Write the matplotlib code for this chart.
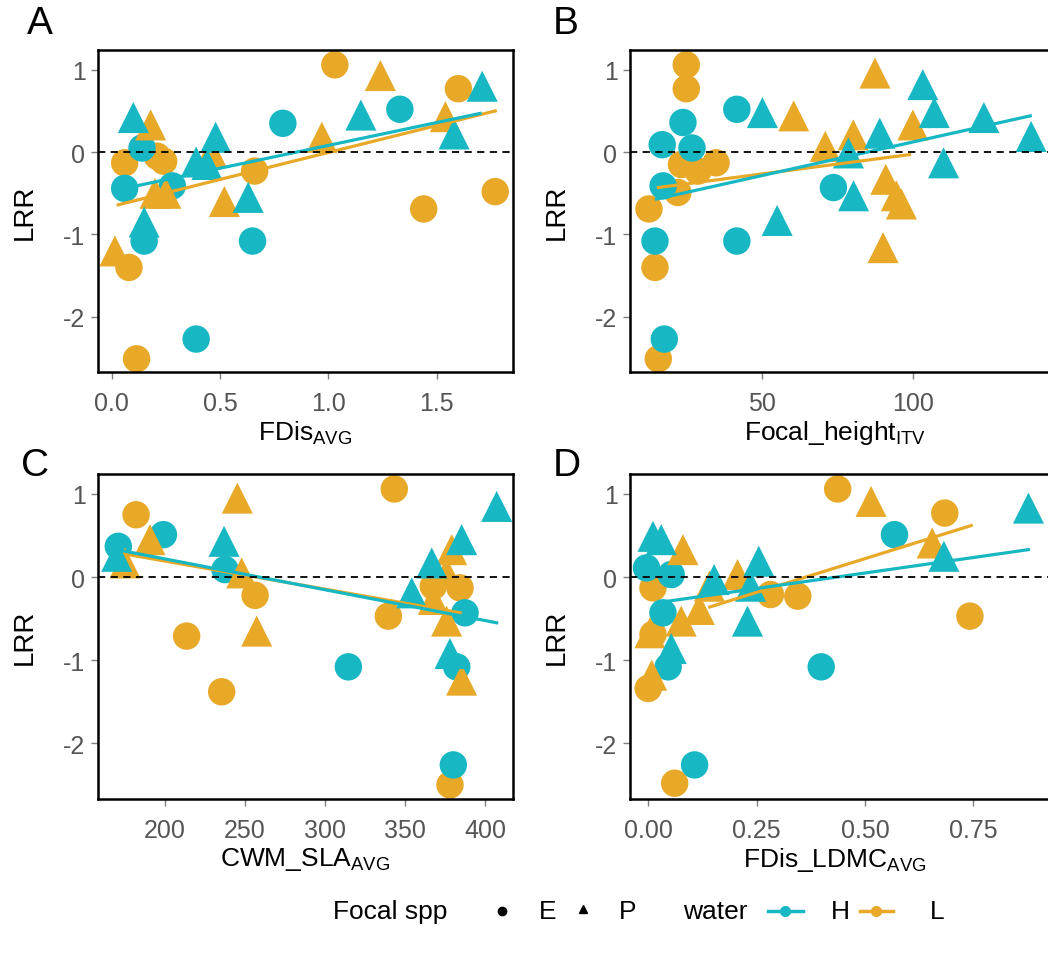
import matplotlib
matplotlib.use("Agg")
import matplotlib.pyplot as plt
from matplotlib.lines import Line2D
import numpy as np

plt.rcParams['font.family'] = ['Liberation Sans', 'DejaVu Sans']
plt.rcParams['mathtext.default'] = 'regular'

COL = {'H': '#17B7C3', 'L': '#E8A828'}
MK = {'E': 'o', 'P': '^'}

# ---- data ----
# panel A: FDis_AVG
A_x = [1.03, 1.60, 1.77, 1.44, 0.66, 0.06, 0.24, 0.08, 0.115, 0.21,
       0.79, 1.33, 0.14, 0.06, 0.65, 0.15, 0.39, 0.28,
       1.71, 1.15, 1.58, 0.10, 0.48, 0.39, 0.44, 0.63, 0.15,
       1.24, 0.97, 1.54, 0.18, 0.46, 0.52, 0.015, 0.25, 0.20]
A_y = [1.06, 0.77, -0.48, -0.69, -0.23, -0.13, -0.11, -1.40, -2.51, -0.05,
       0.35, 0.52, 0.05, -0.44, -1.08, -1.08, -2.27, -0.41,
       0.80, 0.45, 0.22, 0.42, 0.18, -0.12, -0.15, -0.55, -0.85,
       0.93, 0.18, 0.43, 0.33, 0.00, -0.60, -1.20, -0.50, -0.50]
A_spp = list('EEEEEEEEEE' 'EEEEEEEE' 'PPPPPPPPP' 'PPPPPPPPP')
A_water = list('LLLLLLLLLL' 'HHHHHHHH' 'HHHHHHHHH' 'LLLLLLLLL')
A_fit_H = ([0.06, 1.70], [-0.44, 0.47])
A_fit_L = ([0.03, 1.77], [-0.64, 0.50])

# panel B: Focal_height_ITV
B_x = [24.7, 24.7, 12.3, 14.3, 15.4, 23.1, 28.6, 34.6, 21.9,
       41.5, 23.6, 16.7, 26.6, 17.0, 73.6, 14.3, 41.5, 17.4,
       103.3, 107.1, 123.6, 139.3, 50.0, 89.0, 78.6, 110.2, 80.3, 54.9,
       87.4, 60.4, 100.0, 80.2, 70.9, 91.0, 94.5, 96.2, 90.1]
B_y = [1.06, 0.77, -0.69, -1.40, -2.51, -0.15, -0.23, -0.13, -0.49,
       0.52, 0.36, 0.09, 0.05, -0.41, -0.43, -1.08, -1.08, -2.27,
       0.82, 0.48, 0.42, 0.19, 0.48, 0.23, -0.01, -0.13, -0.53, -0.83,
       0.96, 0.44, 0.33, 0.21, 0.07, -0.33, -0.53, -0.63, -1.16]
B_spp = list('EEEEEEEEE' 'EEEEEEEEE' 'PPPPPPPPPP' 'PPPPPPPPP')
B_water = list('LLLLLLLLL' 'HHHHHHHHH' 'HHHHHHHHHH' 'LLLLLLLLL')
B_fit_H = ([14.8, 139.0], [-0.57, 0.44])
B_fit_L = ([15.4, 98.9], [-0.43, -0.03])

# panel C: CWM_SLA_AVG
C_x = [343.3, 181.9, 256.3, 339.6, 213.5, 235.4, 378.1, 384.4, 367.7,
       199.0, 170.8, 237.5, 387.5, 314.6, 382.3, 380.2,
       407.3, 385.4, 236.9, 366.7, 169.8, 354.2, 378.1,
       245.2, 190.6, 175.0, 247.9, 257.3, 379.2, 376.0, 367.7, 376.0, 385.4]
C_y = [1.06, 0.75, -0.22, -0.47, -0.71, -1.38, -2.50, -0.13, -0.11,
       0.51, 0.37, 0.09, -0.43, -1.08, -1.08, -2.26,
       0.85, 0.45, 0.43, 0.17, 0.25, -0.19, -0.92,
       0.95, 0.45, 0.17, 0.05, -0.65, 0.33, 0.05, -0.27, -0.53, -1.24]
C_spp = list('EEEEEEEEE' 'EEEEEEE' 'PPPPPPP' 'PPPPPPPPPP')
C_water = list('LLLLLLLLL' 'HHHHHHH' 'HHHHHHH' 'LLLLLLLLLL')
C_fit_H = ([169.8, 407.3], [0.33, -0.55])
C_fit_L = ([177.0, 384.4], [0.27, -0.43])

# panel D: FDis_LDMC_AVG
D_x = [0.437, 0.684, 0.742, 0.345, 0.282, 0.011, 0.000, 0.061, 0.011,
       0.568, -0.004, 0.053, 0.034, 0.399, 0.046, 0.107,
       0.877, 0.011, 0.030, 0.255, 0.682, 0.152, 0.236, 0.229, 0.053,
       0.514, 0.655, 0.080, 0.206, 0.141, 0.118, 0.076, 0.004, 0.008]
D_y = [1.06, 0.77, -0.47, -0.23, -0.21, -0.13, -1.34, -2.48, -0.69,
       0.51, 0.11, 0.03, -0.43, -1.08, -1.08, -2.26,
       0.83, 0.49, 0.45, 0.19, 0.25, -0.03, -0.11, -0.53, -0.86,
       0.91, 0.41, 0.33, 0.03, -0.11, -0.39, -0.53, -0.67, -1.18]
D_spp = list('EEEEEEEEE' 'EEEEEEE' 'PPPPPPPPP' 'PPPPPPPPP')
D_water = list('LLLLLLLLL' 'HHHHHHH' 'HHHHHHHHH' 'LLLLLLLLL')
D_fit_H = ([0.019, 0.877], [-0.31, 0.33])
D_fit_L = ([0.142, 0.745], [-0.36, 0.62])

panels = [
    ('A', A_x, A_y, A_spp, A_water, A_fit_H, A_fit_L, (-0.063, 1.852), [0.0, 0.5, 1.0, 1.5],
     ['0.0', '0.5', '1.0', '1.5'], r'FDis$_{AVG}$'),
    ('B', B_x, B_y, B_spp, B_water, B_fit_H, B_fit_L, (6.0, 145.9), [50, 100],
     ['50', '100'], r'Focal_height$_{ITV}$'),
    ('C', C_x, C_y, C_spp, C_water, C_fit_H, C_fit_L, (158.1, 417.5), [200, 250, 300, 350, 400],
     ['200', '250', '300', '350', '400'], r'CWM_SLA$_{AVG}$'),
    ('D', D_x, D_y, D_spp, D_water, D_fit_H, D_fit_L, (-0.042, 0.929), [0.0, 0.25, 0.5, 0.75],
     ['0.00', '0.25', '0.50', '0.75'], r'FDis_LDMC$_{AVG}$'),
]

# axes boxes in pixels: left, top, right, bottom
W, H = 1048, 954
boxes = {'A': (98, 51, 513, 373), 'B': (630, 51, 1051, 373),
         'C': (98, 475, 513, 800), 'D': (630, 475, 1051, 800)}
letter_pos = {'A': (40, 24), 'B': (566, 24), 'C': (35, 466), 'D': (567, 466)}

fig = plt.figure(figsize=(W / 100, H / 100), dpi=100)

for name, xs, ys, spp, water, fitH, fitL, xlim, xt, xtl, xlab in panels:
    l, t, r, b = boxes[name]
    ax = fig.add_axes([l / W, 1 - b / H, (r - l) / W, (b - t) / H])
    xs = np.array(xs); ys = np.array(ys)
    spp = np.array(spp); water = np.array(water)
    for s in ['E', 'P']:
        for w in ['L', 'H']:
            m = (spp == s) & (water == w)
            ax.scatter(xs[m], ys[m], marker=MK[s], s=390 if s == 'E' else 500,
                       color=COL[w], edgecolors='none', zorder=2)
    ax.plot(fitL[0], fitL[1], color=COL['L'], lw=2.3, zorder=3)
    ax.plot(fitH[0], fitH[1], color=COL['H'], lw=2.3, zorder=3)
    ax.axhline(0, color='black', lw=1.3, ls=(0, (4, 3)), zorder=4)
    ax.set_xlim(*xlim)
    ax.set_ylim(-2.67, 1.24)
    ax.set_xticks(xt)
    ax.set_xticklabels(xtl)
    ax.set_yticks([1, 0, -1, -2])
    ax.set_yticklabels(['1', '0', '-1', '-2'])
    ax.tick_params(colors='#7f7f7f', labelcolor='#555555', length=5, width=1.0,
                   labelsize=18, pad=4)
    ax.tick_params(axis='x', pad=9)
    for sp in ax.spines.values():
        sp.set_color('black')
        sp.set_linewidth(1.8)
    ax.set_ylabel('LRR', fontsize=20, labelpad=18)
    cx = 305 if name in 'AC' else 835
    fig.text(cx / W, 1 - (b + 60) / H, xlab, ha='center', va='center', fontsize=19)
    lx, ly = letter_pos[name]
    fig.text(lx / W, 1 - ly / H, name, ha='center', va='center', fontsize=28)

# bottom legend
ly = 1 - 912 / H
fs = 19
fig.text(333 / W, ly, 'Focal spp', ha='left', va='center', fontsize=fs)
fig.add_artist(Line2D([502 / W], [ly], marker='o', color='black', markersize=6, lw=0))
fig.text(548 / W, ly, 'E', ha='center', va='center', fontsize=fs)
fig.add_artist(Line2D([583 / W], [ly + 0.002], marker='^', color='black', markersize=6, lw=0))
fig.text(628 / W, ly, 'P', ha='center', va='center', fontsize=fs)
fig.text(683 / W, ly, 'water', ha='left', va='center', fontsize=fs)
fig.add_artist(Line2D([768 / W, 803 / W], [ly, ly], color=COL['H'], lw=2.5))
fig.add_artist(Line2D([785 / W], [ly], color=COL['H'], marker='o', markersize=7, lw=0))
fig.text(840 / W, ly, 'H', ha='center', va='center', fontsize=fs)
fig.add_artist(Line2D([860 / W, 893 / W], [ly, ly], color=COL['L'], lw=2.5))
fig.add_artist(Line2D([876 / W], [ly], color=COL['L'], marker='o', markersize=7, lw=0))
fig.text(937 / W, ly, 'L', ha='center', va='center', fontsize=fs)

fig.savefig('out.png', dpi=100)
